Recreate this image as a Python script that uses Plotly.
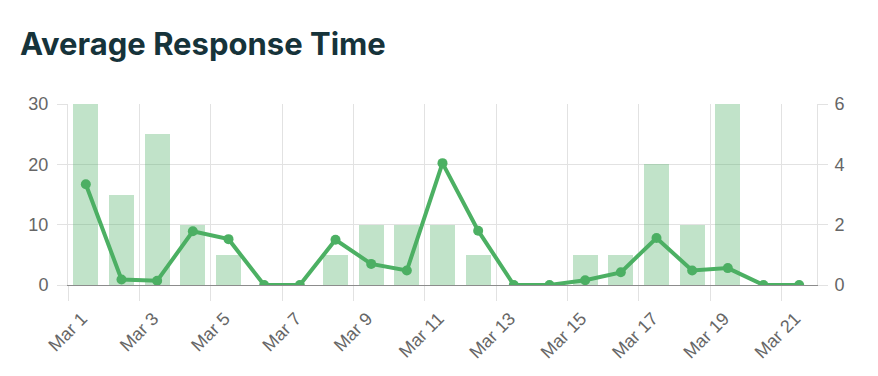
import plotly.graph_objects as go
import pandas as pd

days = list(range(1, 22))
dates = [pd.Timestamp(2024, 3, d) + pd.Timedelta(hours=12) for d in days]
counts = [6, 3, 5, 2, 1, 0, 0, 1, 2, 2, 2, 1, 0, 0, 1, 1, 4, 2, 6, 0, 0]
avg_time = [16.7, 0.9, 0.7, 8.9, 7.6, 0, 0, 7.5, 3.5, 2.4, 20.2, 9.0, 0, 0, 0.8, 2.1, 7.8, 2.4, 2.8, 0, 0]
tick_days = list(range(1, 22, 2))
tick_vals = [pd.Timestamp(2024, 3, d) for d in tick_days]
tick_text = [f"Mar {d}" for d in tick_days]

grid = "#e2e2e2"
fig = go.Figure()
fig.add_trace(go.Bar(
    x=dates, y=counts, yaxis="y2",
    width=0.7 * 86400000,
    marker=dict(color="rgba(76,175,99,0.35)", line=dict(width=0)),
    showlegend=False,
))
fig.add_trace(go.Scatter(
    x=dates, y=avg_time, yaxis="y",
    mode="lines+markers",
    line=dict(color="#4cb063", width=4),
    marker=dict(color="#4cb063", size=10),
    showlegend=False,
))

tickfont = dict(family="Liberation Sans, Arial, sans-serif", size=18, color="#666666")
fig.update_layout(
    width=870, height=368,
    margin=dict(l=60, r=61, t=96, b=91),
    paper_bgcolor="white", plot_bgcolor="white",
    title=dict(
        text="<b>Average Response Time</b>",
        font=dict(family="Inter, sans-serif", size=31, color="#16333a"),
        x=12 / 870, xref="container", xanchor="left",
        y=1 - 36 / 368, yref="container", yanchor="middle",
        pad=dict(l=0, r=0, t=0, b=0),
    ),
    xaxis=dict(
        type="date", automargin=False,
        range=[pd.Timestamp(2024, 3, 1), pd.Timestamp(2024, 3, 22)],
        tickmode="array", tickvals=tick_vals, ticktext=tick_text,
        tickangle=-45, tickfont=tickfont, ticklabelshift=14,
        showgrid=True, gridcolor=grid, gridwidth=1,
        ticks="outside", ticklen=15, tickcolor=grid,
        showline=True, linecolor="#8c8c8c", linewidth=1,
        zeroline=False,
    ),
    yaxis=dict(
        range=[0, 30], tickvals=[0, 10, 20, 30], automargin=False,
        tickfont=tickfont, ticklabelstandoff=5,
        showgrid=True, gridcolor=grid, gridwidth=1,
        ticks="outside", ticklen=10, tickcolor=grid,
        showline=True, linecolor=grid, linewidth=1,
        zeroline=False,
    ),
    yaxis2=dict(
        range=[0, 6], tickvals=[0, 2, 4, 6], automargin=False,
        overlaying="y", side="right",
        tickfont=tickfont, ticklabelstandoff=3,
        showgrid=False,
        ticks="outside", ticklen=10, tickcolor=grid,
        showline=True, linecolor=grid, linewidth=1,
        zeroline=False,
    ),
    bargap=0,
)
fig.write_html("out.html")
